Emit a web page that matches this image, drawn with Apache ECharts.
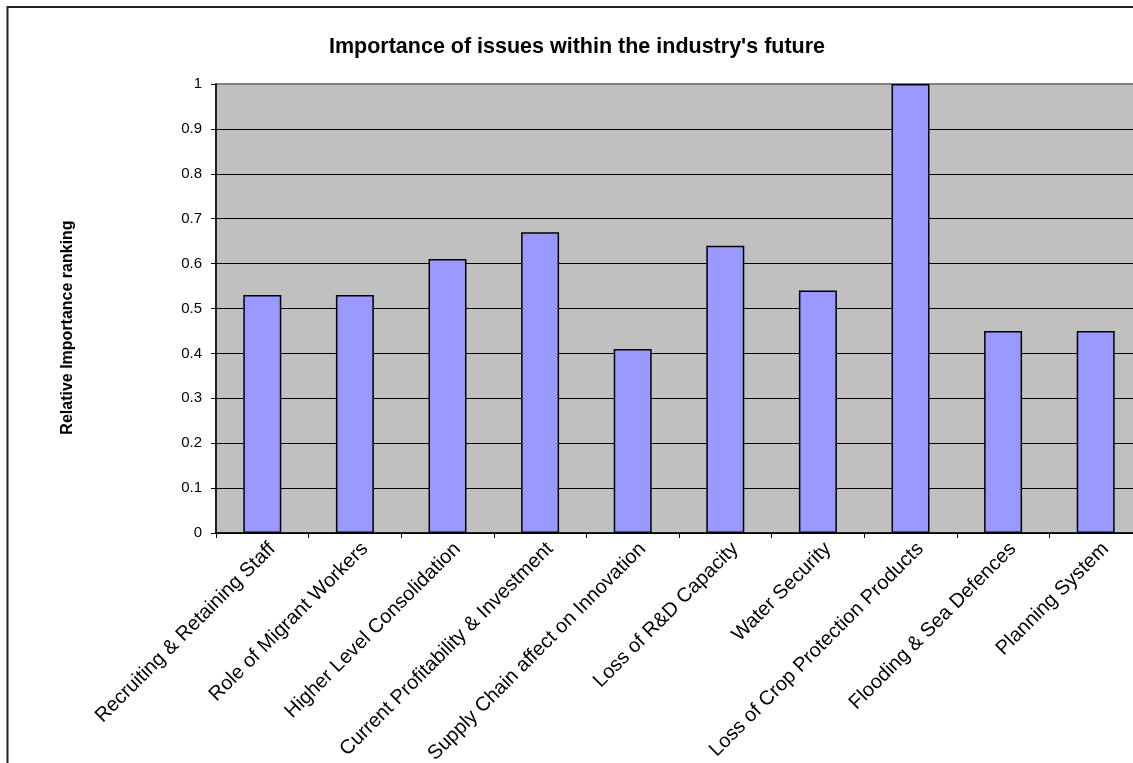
<!DOCTYPE html>
<html>
<head>
<meta charset="utf-8">
<script src="https://cdn.jsdelivr.net/npm/echarts@6/dist/echarts.min.js"></script>
<style>
  html, body { margin: 0; padding: 0; background: #ffffff; }
  #chart { width: 1133px; height: 763px; }
</style>
</head>
<body>
<div id="chart"></div>
<script>
// Issues ranked by relative importance
const categories = [
  'Recruiting & Retaining Staff',
  'Role of Migrant Workers',
  'Higher Level Consolidation',
  'Current Profitability & Investment',
  'Supply Chain affect on Innovation',
  'Loss of R&D Capacity',
  'Water Security',
  'Loss of Crop Protection Products',
  'Flooding & Sea Defences',
  'Planning System'
];
const importance = [0.53, 0.53, 0.61, 0.67, 0.41, 0.64, 0.54, 1.0, 0.45, 0.45];
const yTicks = { min: 0, max: 1, step: 0.1 };

const chart = echarts.init(document.getElementById('chart'));
const font = 'Liberation Sans, Arial, sans-serif';

chart.setOption({
  animation: false,
  backgroundColor: '#ffffff',
  title: {
    text: "Importance of issues within the industry's future",
    left: 572, top: 31, textAlign: 'center',
    textStyle: { fontFamily: font, fontSize: 21.5, fontWeight: 'bold', color: '#000' }
  },
  graphic: [{
    type: 'rect', silent: true, z: 100,
    shape: { x: 7.5, y: 7, width: 1300, height: 900 },
    style: { fill: 'none', stroke: '#222', lineWidth: 2 }
  }],
  grid: {
    left: 216, top: 84, width: 926, height: 449,
    outerBoundsMode: 'none', containLabel: false,
    show: true, backgroundColor: '#C0C0C0', borderColor: '#808080', borderWidth: 2
  },
  xAxis: {
    type: 'category', data: categories,
    axisLine: { lineStyle: { color: '#000', width: 1.5 } },
    axisTick: { show: true, length: 5, lineStyle: { color: '#000' } },
    axisLabel: { rotate: 45, interval: 0, margin: 3, align: 'right', verticalAlign: 'top',
      padding: [4, 0, 0, 0], fontFamily: font, fontSize: 20, color: '#000' }
  },
  yAxis: {
    type: 'value', min: yTicks.min, max: yTicks.max, interval: yTicks.step,
    name: 'Relative Importance ranking', nameLocation: 'middle', nameGap: 140, nameRotate: 90,
    nameTextStyle: { fontFamily: font, fontSize: 16, fontWeight: 'bold', color: '#000',
      padding: [0, 38, 0, 0] },
    axisLine: { show: true, lineStyle: { color: '#000', width: 1.5 } },
    axisTick: { show: true, length: 5, lineStyle: { color: '#000' } },
    axisLabel: { margin: 14, fontFamily: font, fontSize: 15, color: '#000',
      formatter: v => String(Math.round(v * 10) / 10) },
    splitLine: { show: true, showMaxLine: false, lineStyle: { color: '#000', width: 1 } }
  },
  series: [{
    type: 'bar', data: importance, barWidth: '41%',
    itemStyle: { color: '#9999FF', borderColor: '#000', borderWidth: 1.5 }
  }]
});
</script>
</body>
</html>
